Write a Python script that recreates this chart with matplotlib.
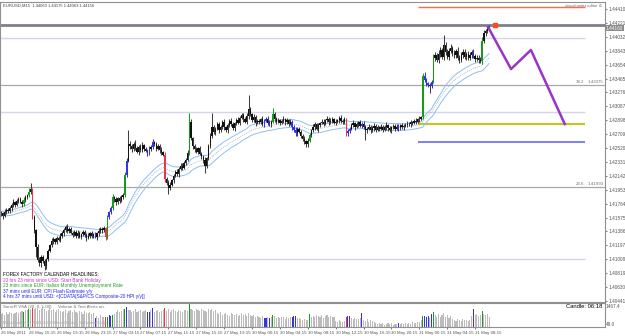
import numpy as np
import matplotlib
matplotlib.use("Agg")
import matplotlib.pyplot as plt

plt.rcParams["font.family"] = ["Liberation Sans", "DejaVu Sans"]

# =========================
# 1. Data (EURUSD M15, prices in pips above 1.4000)
# =========================
closes = [
    163, 160, 165, 168, 166, 171, 174, 178, 175, 180, 183, 179, 176, 181, 185, 188, 192, 196, 158, 140,
    118, 100, 95, 104, 98, 92, 101, 112, 120, 126, 128, 124, 130, 127, 132, 136, 141, 145, 139, 142,
    137, 134, 138, 133, 136, 131, 135, 138, 134, 130, 133, 136, 132, 135, 131, 136, 139, 142, 140, 143,
    131, 158, 165, 170, 185, 182, 178, 184, 180, 186, 188, 215, 235, 258, 255, 250, 258, 252, 247, 254,
    249, 256, 251, 248, 245, 250, 253, 260, 257, 251, 255, 249, 246, 243, 210, 205, 198, 202, 208, 214,
    220, 217, 224, 228, 225, 232, 236, 245, 288, 265, 255, 250, 247, 252, 244, 240, 236, 228, 238, 255,
    268, 280, 274, 278, 284, 276, 281, 287, 280, 276, 283, 289, 285, 279, 286, 290, 286, 293, 297, 291,
    288, 296, 305, 298, 290, 294, 286, 289, 287, 291, 285, 289, 292, 286, 284, 288, 298, 292, 288, 290,
    286, 289, 291, 287, 290, 285, 288, 280, 276, 272, 278, 274, 268, 264, 261, 258, 262, 270, 276, 280,
    284, 278, 283, 286, 288, 285, 290, 292, 287, 289, 291, 286, 288, 290, 293, 289, 287, 291, 272, 275,
    278, 283, 286, 281, 284, 287, 282, 285, 280, 276, 278, 281, 276, 279, 282, 277, 280, 278, 281, 277,
    280, 283, 279, 276, 280, 282, 278, 281, 279, 283, 280, 282, 283, 285, 284, 287, 286, 289, 288, 291,
    292, 294, 350, 344, 340, 338, 336, 342, 374, 378, 372, 380, 385, 376, 392, 383, 376, 384, 388, 381,
    378, 384, 375, 372, 379, 383, 376, 380, 374, 378, 382, 377, 373, 375, 372, 370, 398, 408, 411, 414,
    416,
]
wick_up = [
    3, 2, 4, 2, 3, 2, 3, 4, 2, 3, 2, 3, 2, 4, 3, 2, 5, 8, 2, 3,
    2, 3, 4, 3, 2, 3, 2, 3, 2, 4, 3, 2, 3, 2, 4, 3, 2, 3, 4, 2,
    3, 2, 3, 2, 4, 3, 2, 3, 2, 3, 4, 2, 3, 2, 3, 2, 4, 3, 2, 3,
    2, 3, 2, 3, 4, 2, 3, 2, 3, 2, 3, 4, 3, 18, 4, 3, 2, 5, 3, 2,
    3, 4, 2, 3, 2, 5, 3, 4, 2, 3, 2, 3, 4, 2, 3, 2, 3, 4, 2, 3,
    2, 3, 2, 4, 3, 2, 3, 4, 12, 3, 2, 3, 4, 2, 3, 2, 3, 4, 2, 3,
    4, 20, 3, 2, 4, 3, 2, 3, 4, 2, 3, 2, 4, 3, 2, 3, 4, 2, 3, 2,
    3, 4, 19, 3, 2, 4, 3, 2, 3, 2, 4, 3, 2, 3, 4, 2, 8, 3, 2, 3,
    2, 3, 4, 2, 3, 2, 3, 2, 3, 4, 2, 3, 2, 3, 4, 2, 3, 3, 2, 4,
    3, 2, 3, 2, 4, 3, 2, 3, 2, 4, 3, 2, 3, 2, 3, 4, 2, 3, 2, 3,
    2, 3, 4, 2, 3, 2, 3, 2, 4, 3, 2, 3, 2, 3, 4, 2, 3, 2, 3, 2,
    3, 4, 2, 3, 2, 3, 2, 4, 3, 2, 3, 2, 3, 4, 2, 3, 2, 3, 4, 2,
    3, 2, 4, 5, 3, 2, 3, 2, 6, 4, 3, 5, 4, 3, 14, 4, 3, 4, 5, 3,
    4, 3, 5, 3, 4, 3, 4, 3, 4, 5, 3, 4, 3, 4, 3, 4, 5, 4, 3, 4,
    3,
]
wick_dn = [
    3, 4, 2, 3, 2, 3, 4, 2, 3, 2, 3, 2, 4, 3, 2, 3, 2, 3, 3, 4,
    14, 3, 4, 5, 3, 6, 4, 3, 2, 3, 4, 2, 3, 2, 3, 2, 4, 3, 2, 3,
    2, 3, 2, 4, 3, 2, 3, 2, 3, 4, 2, 3, 2, 3, 2, 4, 3, 2, 3, 2,
    4, 3, 2, 3, 2, 3, 4, 2, 3, 2, 3, 2, 3, 2, 4, 3, 2, 3, 2, 4,
    3, 2, 3, 2, 4, 3, 2, 3, 2, 3, 2, 4, 3, 2, 4, 3, 9, 3, 2, 3,
    2, 3, 4, 2, 3, 2, 3, 2, 3, 2, 4, 3, 2, 3, 2, 3, 4, 10, 3, 2,
    3, 2, 3, 4, 2, 3, 2, 3, 4, 2, 3, 2, 3, 2, 4, 3, 2, 3, 2, 3,
    2, 3, 4, 3, 2, 3, 4, 2, 3, 2, 3, 4, 2, 3, 2, 3, 2, 4, 3, 2,
    3, 2, 3, 4, 2, 3, 2, 3, 2, 4, 3, 2, 3, 2, 3, 4, 4, 2, 3, 2,
    3, 2, 4, 3, 2, 3, 2, 3, 4, 2, 3, 2, 3, 2, 4, 3, 2, 3, 4, 3,
    3, 2, 3, 4, 2, 3, 2, 3, 2, 13, 3, 2, 3, 2, 4, 3, 2, 3, 2, 3,
    2, 3, 4, 2, 3, 2, 3, 2, 4, 3, 2, 3, 2, 3, 2, 4, 3, 2, 3, 2,
    3, 2, 3, 2, 4, 3, 9, 3, 2, 4, 3, 5, 4, 3, 4, 5, 3, 4, 3, 4,
    3, 4, 3, 5, 3, 4, 3, 4, 3, 3, 4, 3, 4, 3, 5, 3, 4, 3, 4, 3,
    2,
]
volumes = [
    760, 820, 730, 860, 790, 880, 810, 750, 840, 870, 800, 860, 950, 910, 1020, 980, 1060, 1090, 1120, 1040,
    1100, 1150, 990, 1060, 1170, 1080, 950, 1010, 1120, 980, 1050, 900, 1000, 1090, 940, 880, 960, 1020, 850, 930,
    990, 870, 1010, 900, 830, 960, 890, 780, 920, 850, 800, 880, 760, 820, 510, 640, 560, 700, 620, 580,
    570, 620, 720, 660, 720, 780, 900, 1000, 860, 950, 1040, 1060, 1175, 980, 1020, 900, 960, 1050, 880, 940,
    1000, 870, 930, 990, 910, 900, 980, 1120, 860, 950, 1030, 890, 960, 1010, 1120, 970, 1050, 900, 990, 1060,
    940, 880, 1010, 960, 900, 1030, 980, 920, 1380, 1050, 990, 930, 1060, 1000, 950, 1080, 1020, 960, 900, 1040,
    990, 1050, 930, 980, 820, 760, 860, 700, 790, 850, 730, 680, 810, 760, 700, 780, 650, 720, 800, 690,
    740, 660, 820, 700, 640, 720, 590, 680, 610, 560, 650, 520, 510, 600, 520, 580, 720, 640, 560, 610,
    530, 600, 570, 500, 620, 550, 590, 590, 640, 660, 560, 520, 450, 420, 480, 400, 440, 780, 620, 680,
    580, 700, 650, 620, 690, 560, 640, 700, 600, 660, 580, 620, 350, 300, 400, 330, 290, 380, 590, 670,
    680, 520, 460, 560, 500, 470, 540, 840, 430, 350, 480, 300, 390, 330, 280, 250, 180, 240, 150, 210,
    120, 190, 260, 170, 230, 140, 200, 160, 250, 180, 220, 150, 260, 190, 240, 170, 280, 210, 250, 300,
    320, 410, 660, 630, 620, 640, 560, 790, 880, 700, 620, 760, 580, 690, 800, 620, 720, 540, 650, 500,
    440, 380, 460, 410, 350, 470, 390, 430, 360, 420, 680, 1040, 720, 760, 650, 700, 940, 780, 690, 750,
    620,
]
green_bars = [13, 16, 61, 64, 71, 108, 156, 177, 242, 248, 276]
red_bars = [18, 60, 94, 198]
blue_bars = [54, 62, 63, 72, 84, 85, 87, 151, 152, 154, 167, 168, 169, 199, 200, 207, 228, 243, 244, 245, 247, 271]

price_ticks = [1.44410, 1.44221, 1.44032, 1.43843, 1.43654, 1.43465, 1.43276, 1.43087, 1.42898, 1.42709, 1.42520,
               1.42331, 1.42142, 1.41953, 1.41764, 1.41575, 1.41386, 1.41197, 1.41008, 1.40819, 1.40630, 1.40441]
time_bars = [0, 16, 32, 48, 64, 80, 96, 112, 128, 144, 160, 176, 192, 208, 224, 240, 256, 272]
time_labels = ["26 May 2011", "26 May 15:15", "26 May 19:15", "26 May 23:15", "27 May 03:15", "27 May 07:15",
               "27 May 11:15", "27 May 15:15", "27 May 19:15", "30 May 00:15", "30 May 04:15", "30 May 08:15",
               "30 May 12:15", "30 May 16:15", "30 May 20:15", "31 May 00:15", "31 May 04:15", "31 May 08:15"]

bid_price = 1.44186
fib_levels = [1.43375, 1.41993]
fib_names = ["38.2", "23.6"]
light_levels = [1.44016, 1.43010, 1.41011]
order_red = 1.44437
order_olive = 1.42846
order_blue = 1.42602
path_bars = [279.4, 292.6, 304.0, 323.4]
path_prices = [1.44165, 1.43594, 1.43853, 1.42846]
marker_bar, marker_price = 283.4, 1.44192

headlines = ["FOREX FACTORY CALENDAR HEADLINES:",
             "20 hrs 23 mins since USD: Start Bank Holiday",
             "23 mins since EUR: Italian Monthly Unemployment Rate",
             "37 mins until EUR: CPI Flash Estimate y/y",
             "4 hrs 37 mins until USD: <[CDATA[S&P/CS Composite-20 HPI y/y]]"]
headline_colors = ["black", "#cc33cc", "#22a022", "#2222ee", "#2222ee"]

# =========================
# 2. Derived OHLC
# =========================
c = 1.4 + np.array(closes) / 10000.0
o = np.concatenate([[c[0]], c[:-1]])
h = np.maximum(o, c) + np.array(wick_up) / 10000.0
l = np.minimum(o, c) - np.array(wick_dn) / 10000.0
n = len(c)
idx = np.arange(n)


def ema(values, period):
    out = np.empty(len(values))
    k = 2.0 / (period + 1)
    out[0] = values[0]
    for i in range(1, len(values)):
        out[i] = out[i - 1] + k * (values[i] - out[i - 1])
    return out


ema_hi = ema(h, 34)
ema_lo = ema(l, 34)
ema_cl = ema(c, 34)

kind_color = {}
for b in green_bars:
    kind_color[b] = "#1a9a1a"
for b in red_bars:
    kind_color[b] = "#ee3344"
for b in blue_bars:
    kind_color[b] = "#3333ee"

# =========================
# 3. Figure
# =========================
W, H = 625, 336
fig = plt.figure(figsize=(W / 100, H / 100), dpi=100)
fig.patch.set_facecolor("white")


def fx(px):
    return px / W


def fy(py):
    return 1 - py / H


ax = fig.add_axes([0, fy(302), fx(605), (302 - 2) / H])
axv = fig.add_axes([0, fy(327), fx(605), 24 / H])

xlim = (-0.6, 346.5)
ax.set_xlim(*xlim)
ax.set_ylim(1.44410 - 293 / 7355, 1.44410 + 7 / 7355)
axv.set_xlim(*xlim)
axv.set_ylim(0, 1420)

for a in (ax, axv):
    for s in a.spines.values():
        s.set_color("#909090")
        s.set_linewidth(0.8)

# horizontal levels
ax.axhline(bid_price, color="#80808c", lw=2.0, zorder=1)
for lv in fib_levels:
    ax.axhline(lv, color="#a8a8a8", lw=0.9, zorder=1)
for lv in light_levels:
    ax.hlines(lv, xlim[0], 335, color="#d4d4ea", lw=1.0, zorder=1)
ax.hlines(order_red, 239, 335, color="#ff6a4a", lw=1.0, zorder=2)
ax.hlines(order_olive, 239, 335, color="#c4c428", lw=1.6, zorder=2)
ax.hlines(order_blue, 239, 335, color="#6868f4", lw=1.2, zorder=2)

# bands
ax.plot(idx, ema_hi, color="#8cc0f4", lw=0.7, zorder=2)
ax.plot(idx, ema_lo, color="#8cc0f4", lw=0.7, zorder=2)
ax.plot(idx, ema_cl, color="#a0a0a0", lw=0.6, ls=(0, (1, 1.5)), zorder=2)

# candles
wick_cols = [kind_color.get(i, "#404040") for i in idx]
body_cols = [kind_color.get(i, "#111111") for i in idx]
ax.vlines(idx, l, h, colors=wick_cols, lw=0.75, zorder=3)
body_lo = np.minimum(o, c)
body_h = np.maximum(np.abs(c - o), 0.00008)
ax.bar(idx, body_h, bottom=body_lo, width=0.75, color=body_cols, lw=0, zorder=4)

# drawn path
ax.plot(path_bars, path_prices, color="#9933cc", lw=1.8, zorder=5)
ax.plot([marker_bar], [marker_price], marker="s", ms=3.2, color="#ff4a1a", zorder=6)

# right price axis
ax.yaxis.tick_right()
ax.set_yticks(price_ticks)
ax.set_yticklabels([f"{p:.5f}" for p in price_ticks])
ax.tick_params(axis="y", labelsize=3.4, labelcolor="#555555", color="#808080", length=1.5, pad=0.8)
ax.set_xticks([])

fig.text(fx(606), fy(28), f"{c[-1]:.5f}", fontsize=3.4, color="white", va="center", ha="left",
         bbox=dict(boxstyle="square,pad=0.15", fc="#8a8a8a", ec="none"))

# volume panel
vcols = [kind_color.get(i, "#bcbcbc") for i in idx]
axv.bar(idx, volumes, width=0.62, color=vcols, lw=0)
axv.set_yticks([])
axv.set_xticks(time_bars)
axv.set_xticklabels(time_labels, ha="left")
axv.tick_params(axis="x", labelsize=3.2, labelcolor="#555555", color="#808080", length=1.5, pad=1.2)

# texts
fig.text(fx(3), fy(6), "EURUSD,M15  1.44063 1.44175 1.44063 1.44156", fontsize=3.0, color="#404040", va="center")
fig.text(fx(602), fy(6), "visual order editor \u2299", fontsize=3.0, color="#707070", va="center", ha="right")
for lv, nm in zip(fib_levels, fib_names):
    ypx = 9 + (1.44410 - lv) * 7355
    fig.text(fx(584), fy(ypx - 3), nm, fontsize=3.2, color="#707070", va="center", ha="right")
    fig.text(fx(588), fy(ypx - 3), f"{lv:.5f}", fontsize=3.2, color="#707070", va="center", ha="left")

for k, (txt, col) in enumerate(zip(headlines, headline_colors)):
    fig.text(fx(3), fy(275 + k * 5.4), txt, fontsize=3.4, color=col, va="center")

fig.text(fx(3), fy(307), "SonicR VSA", fontsize=3.2, color="#707070", va="center")
fig.text(fx(28), fy(307), "(20, 0, 1.00)", fontsize=3.2, color="#707070", va="center")
fig.text(fx(58), fy(307), "Volume & Text Alerts on.", fontsize=3.2, color="#707070", va="center")
fig.text(fx(3), fy(323), "MetaTrader  \u00a9 2001-2010 MetaQuotes Software Corp.", fontsize=3.2, color="#a8a8a8", va="center")
fig.text(fx(602), fy(307), "Candle: 06:18", fontsize=4.2, color="black", va="center", ha="right")
fig.text(fx(606), fy(306), "1467.4", fontsize=3.4, color="#555555", va="center")
fig.text(fx(606), fy(325), "49.0", fontsize=3.4, color="#555555", va="center")

fig.savefig("out.png", dpi=100, facecolor="white")
